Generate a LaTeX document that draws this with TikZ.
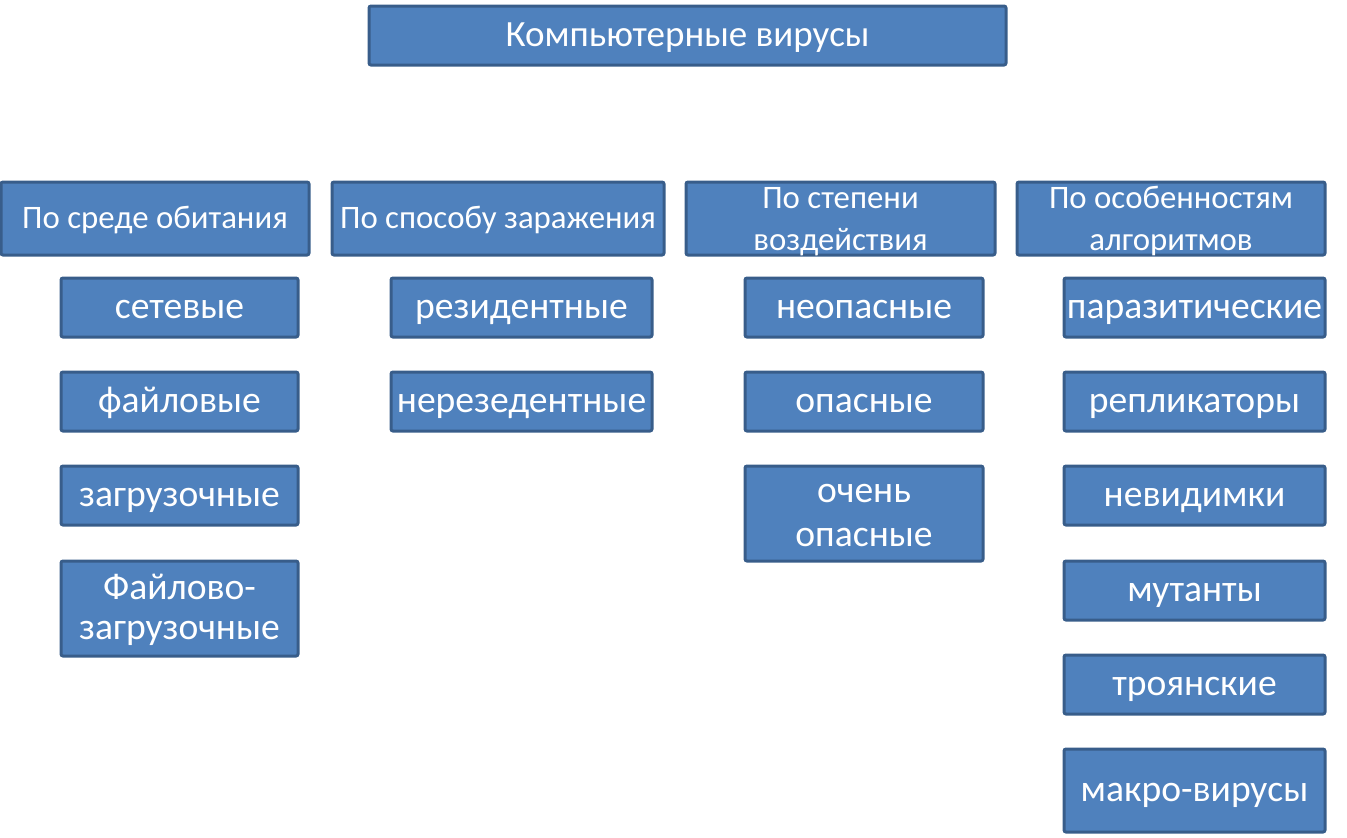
\documentclass[tikz,border=0pt]{standalone}
\usepackage{fontspec}
\setmainfont{Carlito}
\usepackage{tikz}
\definecolor{boxfill}{HTML}{4F81BD}
\definecolor{boxline}{HTML}{385D8A}
\tikzset{
	box/.style={draw=boxline,fill=boxfill,line width=1.5pt,rounded corners=1pt,
		text=white,inner sep=0pt,align=flush center,
		execute at begin node={\rule{0pt}{0.9em}},
		execute at end node={\rule[-0.3em]{0pt}{0.3em}}},
	size/.style 2 args={minimum width=#1,text width=#1,minimum height=#2},
	title/.style={box,font=\fontsize{18.5}{22}\selectfont},
	group/.style={box,font=\fontsize{16.4}{21}\selectfont},
	twolines/.style={text height=10pt,text depth=20.5pt},
	item/.style={box,font=\fontsize{18.8}{22}\selectfont},
}
\begin{document}
\begin{tikzpicture}[x=0.5pt,y=-0.5pt]
		\useasboundingbox (0,0) rectangle (1347,837);
		\node[title,size={318.5pt}{29.5pt}](root)at(687.5,35.5) {Компьютерные вирусы};
		
		\node[group,size={154pt}{36.5pt}](g1)at(155,218.5) {По среде обитания};
		\node[group,size={166pt}{36.5pt}](g2)at(498,218.5) {По способу заражения};
		\node[group,twolines,size={154.5pt}{36.5pt}](g3)at(840.5,218.5) {По степени\\воздействия};
		\node[group,twolines,size={154pt}{36.5pt}](g4)at(1171,218.5) {По особенностям\\алгоритмов};
		
		\node[item,size={118.5pt}{29.5pt}](a1)at(179.5,307.5) {сетевые};
		\node[item,size={118.5pt}{29.5pt}](a2)at(179.5,401.5) {файловые};
		\node[item,size={118.5pt}{29.5pt}](a3)at(179.5,495.5) {загрузочные};
		\node[item,font=\fontsize{18.8}{20}\selectfont,size={118.5pt}{47.5pt}](a4)at(179.5,608.5) {Файлово-\\загрузочные};
		
		\node[item,size={130.5pt}{29.5pt}](b1)at(521.5,307.5) {резидентные};
		\node[item,size={130.5pt}{29.5pt}](b2)at(521.5,401.5) {нерезедентные};
		
		\node[item,size={119pt}{29.5pt}](c1)at(864,307.5) {неопасные};
		\node[item,size={119pt}{29.5pt}](c2)at(864,401.5) {опасные};
		\node[item,size={119pt}{47.5pt}](c3)at(864,513.5) {очень\\опасные};
		
		\node[item,size={130.5pt}{29.5pt}](d1)at(1194.5,307.5) {паразитические};
		\node[item,size={130.5pt}{29.5pt}](d2)at(1194.5,401.5) {репликаторы};
		\node[item,size={130.5pt}{29.5pt}](d3)at(1194.5,495.5) {невидимки};
		\node[item,size={130.5pt}{29.5pt}](d4)at(1194.5,590.5) {мутанты};
		\node[item,size={130.5pt}{29.5pt}](d5)at(1194.5,684.5) {троянские};
		\node[item,size={130.5pt}{41.5pt}](d6)at(1194.5,790.5) {макро-вирусы};
	\end{tikzpicture}
\end{document}
